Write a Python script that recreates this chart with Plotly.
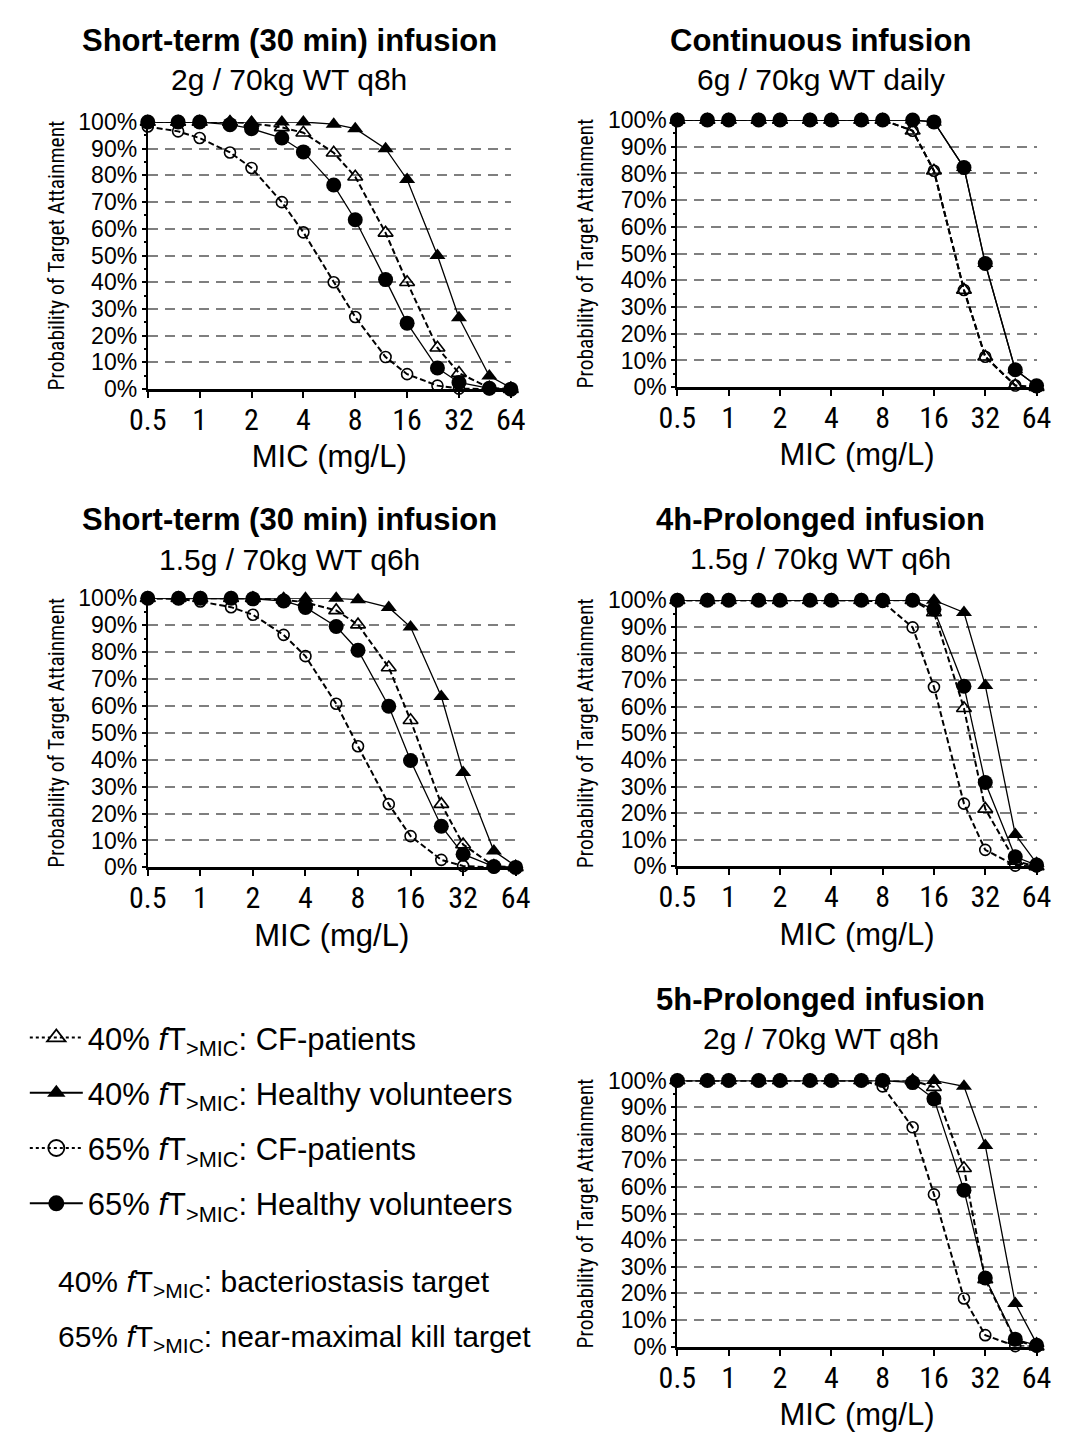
import plotly.graph_objects as go

# MIC grid (mg/L) shared by every regimen
mic = [0.5, 0.75, 1, 1.5, 2, 3, 4, 6, 8, 12, 16, 24, 32, 48, 64]

# Probability of target attainment (%) per regimen and target
# Short-term (30 min) infusion, 2 g / 70 kg q8h
st8_40_cf = [100, 100, 100, 100, 99.5, 98, 96, 88.5, 79.5, 58.5, 40, 15.5, 6, 0.5, 0]
st8_40_hv = [100, 100, 100, 100, 100, 100, 100, 99.2, 97.5, 90, 78.5, 50, 26.7, 4.9, 0.5]
st8_65_cf = [98.3, 96.5, 94, 88.6, 82.8, 70, 58.7, 40, 27, 12, 5.6, 1.3, 0.2, 0, 0]
st8_65_hv = [100, 100, 100, 99, 97.5, 94, 88.8, 76.4, 63.4, 41, 24.7, 7.9, 2.5, 0.3, 0]

# Continuous infusion, 6 g / 70 kg daily
ci_40_cf = [100, 100, 100, 100, 100, 100, 100, 100, 100, 96, 81, 36.4, 11.4, 0.6, 0]
ci_40_hv = [100, 100, 100, 100, 100, 100, 100, 100, 100, 100, 99.3, 82.2, 46.3, 6.5, 0.5]
ci_65_cf = [100, 100, 100, 100, 100, 100, 100, 100, 100, 96, 81, 36.4, 11.4, 0.6, 0]
ci_65_hv = [100, 100, 100, 100, 100, 100, 100, 100, 100, 100, 99.3, 82.2, 46.3, 6.5, 0.5]

# Short-term (30 min) infusion, 1.5 g / 70 kg q6h
st6_40_cf = [100, 100, 100, 100, 100, 99.5, 98.5, 95.5, 90.2, 74.3, 54.7, 23.5, 8.5, 0.5, 0]
st6_40_hv = [100, 100, 100, 100, 100, 100, 100, 100, 99.5, 96.6, 89.3, 63.5, 35.3, 6.1, 0.5]
st6_65_cf = [100, 99.8, 98.8, 96.7, 93.9, 86.4, 78.5, 60.8, 45, 23.5, 11.6, 2.8, 0.5, 0, 0]
st6_65_hv = [100, 100, 100, 100, 99.8, 99, 96.6, 89.5, 80.7, 59.9, 39.7, 15.3, 4.9, 0.3, 0]

# 4h-prolonged infusion, 1.5 g / 70 kg q6h
p4_40_cf = [100, 100, 100, 100, 100, 100, 100, 100, 100, 100, 95.4, 59.4, 21.6, 2, 0]
p4_40_hv = [100, 100, 100, 100, 100, 100, 100, 100, 100, 100, 100, 95.4, 68, 12, 1.2]
p4_65_cf = [100, 100, 100, 100, 100, 100, 100, 100, 99.4, 89.8, 67.4, 23.6, 6.2, 0.3, 0]
p4_65_hv = [100, 100, 100, 100, 100, 100, 100, 100, 100, 100, 96.6, 67.7, 31.5, 3.6, 0.5]

# 5h-prolonged infusion, 2 g / 70 kg q8h
p5_40_cf = [100, 100, 100, 100, 100, 100, 100, 100, 100, 100, 97.5, 67, 25.2, 2.5, 0]
p5_40_hv = [100, 100, 100, 100, 100, 100, 100, 100, 100, 100, 100, 97.8, 75.6, 16.2, 1.2]
p5_65_cf = [100, 100, 100, 100, 100, 100, 100, 100, 97.8, 82.4, 57.2, 18.1, 4.3, 0.2, 0]
p5_65_hv = [100, 100, 100, 100, 100, 100, 100, 100, 100, 99.2, 93.1, 58.8, 25.8, 2.8, 0.5]

# Axis ticks
x_tick_vals = [0.5, 1, 2, 4, 8, 16, 32, 64]
x_tick_text = ["0.5", "1", "2", "4", "8", "16", "32", "64"]
y_tick_vals = [0, 10, 20, 30, 40, 50, 60, 70, 80, 90, 100]
y_tick_text = [f"{v}%" for v in y_tick_vals]

# Panel titles
titles = [
    "Short-term (30 min) infusion",
    "Continuous infusion",
    "Short-term (30 min) infusion",
    "4h-Prolonged infusion",
    "5h-Prolonged infusion",
]
subtitles = [
    "2g / 70kg WT q8h",
    "6g / 70kg WT daily",
    "1.5g / 70kg WT q6h",
    "1.5g / 70kg WT q6h",
    "2g / 70kg WT q8h",
]

series_names = [
    "40% <i>f</i>T<sub>&gt;MIC</sub>: CF-patients",
    "40% <i>f</i>T<sub>&gt;MIC</sub>: Healthy volunteers",
    "65% <i>f</i>T<sub>&gt;MIC</sub>: CF-patients",
    "65% <i>f</i>T<sub>&gt;MIC</sub>: Healthy volunteers",
]

panel_data = [
    (st8_40_cf, st8_40_hv, st8_65_cf, st8_65_hv),
    (ci_40_cf, ci_40_hv, ci_65_cf, ci_65_hv),
    (st6_40_cf, st6_40_hv, st6_65_cf, st6_65_hv),
    (p4_40_cf, p4_40_hv, p4_65_cf, p4_65_hv),
    (p5_40_cf, p5_40_hv, p5_65_cf, p5_65_hv),
]

W, H = 1069, 1448

# Plot-area boxes in pixels: (left, right, top, bottom)
boxes = [
    (133, 508, 111, 383),
    (680, 1051, 109, 381),
    (133, 513, 596, 870),
    (680, 1051, 598, 869),
    (680, 1051, 1087, 1358),
]
# Title centres in pixels: (x, title_y, subtitle_y)
title_pos = [
    (279, 28, 68),
    (828, 28, 68),
    (279, 516, 556),
    (828, 516, 555),
    (828, 1005, 1044),
]

SANS = "Liberation Sans, Arial, sans-serif"
NARROW = "Liberation Sans Narrow, Arial Narrow, Roboto Condensed, Liberation Sans, sans-serif"

# Styles per series: 40% CF, 40% HV, 65% CF, 65% HV
styles = [
    dict(symbol="triangle-up-open", size=13, line=dict(color="black", width=1.6), dash="6px,3px", lw=2.0, key_dash="dot"),
    dict(symbol="triangle-up", size=14, line=dict(color="black", width=0), dash="solid", lw=1.3, key_dash="solid"),
    dict(symbol="circle-open", size=11, line=dict(color="black", width=1.6), dash="6px,3px", lw=2.0, key_dash="dot"),
    dict(symbol="circle", size=15, line=dict(color="black", width=0), dash="solid", lw=1.3, key_dash="solid"),
]
draw_order = [2, 0, 1, 3]

fig = go.Figure()

for p, data in enumerate(panel_data):
    ax = "" if p == 0 else str(p + 1)
    for k in draw_order:
        st = styles[k]
        fig.add_trace(go.Scatter(
            x=mic, y=data[k],
            mode="lines+markers",
            name=series_names[k],
            legendgroup=f"s{k}",
            showlegend=False,
            line=dict(color="black", width=st["lw"], dash=st["dash"]),
            marker=dict(symbol=st["symbol"], size=st["size"], color="black", line=st["line"]),
            cliponaxis=False,
            xaxis="x" + ax, yaxis="y" + ax,
        ))

# Legend keys: dotted line for CF patients, larger symbols
for k, st in enumerate(styles):
    fig.add_trace(go.Scatter(
        x=[None], y=[None],
        mode="lines+markers",
        name=series_names[k],
        legendgroup=f"s{k}",
        legendrank=k + 1,
        showlegend=True,
        line=dict(color="black", width=2, dash=st["key_dash"]),
        marker=dict(symbol=st["symbol"], size=16, color="black",
                    line=dict(color="black", width=1.8 if "open" in st["symbol"] else 0)),
    ))

layout_axes = {}
annotations = []
for p, (l, r, t, b) in enumerate(boxes):
    ax = "" if p == 0 else str(p + 1)
    layout_axes["xaxis" + ax] = dict(
        domain=[l / W, r / W],
        anchor="y" + ax,
        type="log",
        range=[-0.30103, 1.80618],
        tickvals=x_tick_vals,
        ticktext=x_tick_text,
        tickfont=dict(family=NARROW, size=30, color="black"),
        ticks="outside", ticklen=6, tickwidth=2, tickcolor="black",
        ticklabelstandoff=-4,
        showline=True, linewidth=3, linecolor="black",
        showgrid=False, zeroline=False,
        title=dict(text="MIC (mg/L)", font=dict(family=SANS, size=31, color="black"), standoff=10),
    )
    layout_axes["yaxis" + ax] = dict(
        domain=[1 - b / H, 1 - t / H],
        anchor="x" + ax,
        range=[0, 100],
        tickvals=y_tick_vals,
        ticktext=y_tick_text,
        tickfont=dict(family=SANS, size=23, color="black"),
        ticks="outside", ticklen=4, tickwidth=2, tickcolor="black",
        showline=True, linewidth=2, linecolor="black",
        showgrid=True, gridcolor="#7f7f7f", gridwidth=1.5, griddash="10px,7px",
        zeroline=False,
        minor=dict(dtick=5, ticks="outside", ticklen=2, tickwidth=1.5, tickcolor="black", showgrid=False),
        title=dict(text="Probability of Target Attainment", font=dict(family=NARROW, size=21.5, color="black"), standoff=8),
    )
    cx, ty, sy = title_pos[p]
    annotations.append(dict(
        text=f"<b>{titles[p]}</b>", x=cx / W, y=1 - ty / H, xref="paper", yref="paper",
        xanchor="center", yanchor="middle", showarrow=False,
        font=dict(family=SANS, size=31, color="black"),
    ))
    annotations.append(dict(
        text=subtitles[p], x=cx / W, y=1 - sy / H, xref="paper", yref="paper",
        xanchor="center", yanchor="middle", showarrow=False,
        font=dict(family=SANS, size=30, color="black"),
    ))

# Target definitions under the legend
annotations.append(dict(
    text="40% <i>f</i>T<sub>&gt;MIC</sub>: bacteriostasis target",
    x=38 / W, y=1 - 1294 / H, xref="paper", yref="paper",
    xanchor="left", yanchor="middle", showarrow=False,
    font=dict(family=SANS, size=30, color="black"),
))
annotations.append(dict(
    text="65% <i>f</i>T<sub>&gt;MIC</sub>: near-maximal kill target",
    x=38 / W, y=1 - 1350 / H, xref="paper", yref="paper",
    xanchor="left", yanchor="middle", showarrow=False,
    font=dict(family=SANS, size=30, color="black"),
))

fig.update_layout(
    width=W, height=H,
    margin=dict(l=0, r=0, t=0, b=0),
    paper_bgcolor="white", plot_bgcolor="white",
    showlegend=True,
    legend=dict(
        x=6 / W, y=1 - 1016 / H, xanchor="left", yanchor="top",
        font=dict(family=SANS, size=31, color="black"),
        tracegroupgap=12, itemwidth=53, bgcolor="rgba(0,0,0,0)",
    ),
    annotations=annotations,
    **layout_axes,
)

fig.write_html("out.html")
